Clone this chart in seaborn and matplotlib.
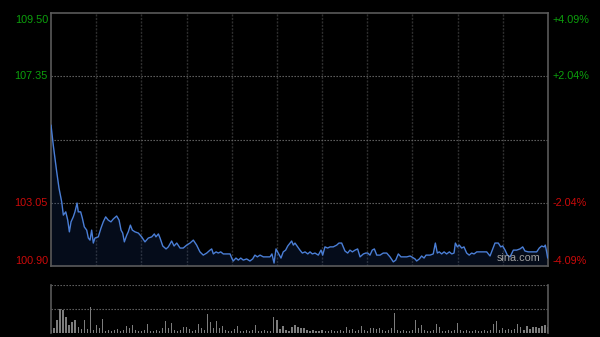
import numpy as np
import pandas as pd
import seaborn as sns
import matplotlib
matplotlib.use("Agg")
import matplotlib.pyplot as plt
from matplotlib.transforms import offset_copy

# ---------------- data ----------------
prev_close = 105.20
price_ticks = [109.50, 107.35, 103.05, 100.90]
pct_labels = ["+4.09%", "+2.04%", "-2.04%", "-4.09%"]

minutes = [0, 1.5, 3.8, 5.3, 7.1, 8.2, 9.8, 11.1, 12.2, 13.3, 14.8, 15.9, 17.3, 18.1, 19.7,
           20.8, 22.1, 23.7, 24.8, 25.9, 27.0, 28.1, 29.2, 31.4, 33.2, 34.7, 36.3, 38.0, 39.8,
           41.4, 43.6, 45.2, 46.5, 47.6, 48.7, 50.3, 51.3, 52.7, 54.0, 55.8, 58.0, 60.2, 62.4,
           64.6, 66.9, 68.6,
           69.7, 71.3, 72.4, 74.2, 76.4, 77.9, 80.1, 81.7, 83.5, 85.7, 87.8, 90.1, 92.3, 94.5,
           96.7, 98.9, 101.1, 103.4, 105.6, 106.7, 107.8, 109.6, 111.1, 112.7, 114.4, 116.7,
           118.9, 120.0, 121.0, 122.8, 124.4, 126.0, 127.7, 129.9, 132.1, 133.9, 135.4, 137.0,
           138.8, 141.0, 143.2, 145.4, 146.7, 148.1, 149.4, 150.9,
           152.7, 154.2, 155.8, 157.2, 158.7, 159.8, 160.9, 162.0, 163.8, 165.3, 166.9, 168.7,
           170.5, 172.0, 173.5, 175.3, 177.5, 179.3, 180.4, 181.9, 183.7, 185.3, 187.4, 189.7,
           191.2, 193.0, 195.2, 197.0, 198.5, 200.1, 201.9, 203.6, 205.2, 207.4, 209.0, 210.3,
           211.8, 213.3, 214.7, 216.3, 218.5, 220.6, 222.9, 225.1, 227.3, 228.9, 230.6, 232.4,
           234.6,
           236.2, 238.4, 239.5, 241.7, 242.8, 244.6, 246.1, 247.7, 249.0, 251.7, 253.8, 255.2,
           256.5, 257.8, 259.4, 261.0, 262.7, 264.5, 266.1, 267.6, 268.5, 269.8, 271.1, 272.7,
           274.2, 276.0, 277.7, 279.3, 280.9, 282.7, 286.0, 289.3, 291.5, 293.3, 294.8, 297.0,
           298.6, 299.9, 301.5, 303.0, 304.8, 307.0, 309.2, 311.4, 313.2, 314.7, 316.9, 320.2,
           322.5, 324.2, 325.8, 327.4, 328.2, 329.1, 329.8]

prices = [105.69, 105.01, 104.10, 103.55, 103.08, 102.63, 102.74, 102.46, 102.06, 102.40,
          102.57, 102.74, 103.04, 102.74, 102.74, 102.53, 102.23, 102.12, 101.85, 101.78,
          102.12, 101.68, 101.85, 101.89, 102.19, 102.40, 102.57, 102.46, 102.40, 102.50,
          102.60, 102.46, 102.12, 102.02, 101.72, 101.95, 102.06, 102.29, 102.12, 102.06,
          102.02, 101.89, 101.72, 101.85, 101.89, 101.99,
          101.89, 101.99, 101.85, 101.58, 101.48, 101.55, 101.75, 101.58, 101.68, 101.51,
          101.51, 101.61, 101.68, 101.78, 101.61, 101.38, 101.27, 101.34, 101.44, 101.48,
          101.31, 101.38, 101.34, 101.38, 101.31, 101.31, 101.31, 101.17, 101.07, 101.17,
          101.10, 101.17, 101.10, 101.14, 101.07, 101.14, 101.27, 101.21, 101.27, 101.21,
          101.21, 101.21, 101.31, 101.00, 101.48, 101.34,
          101.17, 101.38, 101.44, 101.58, 101.68, 101.75, 101.61, 101.68, 101.55, 101.44,
          101.34, 101.38, 101.31, 101.38, 101.31, 101.34, 101.27, 101.44, 101.27, 101.55,
          101.51, 101.55, 101.55, 101.61, 101.68, 101.68, 101.41, 101.34, 101.44, 101.38,
          101.44, 101.48, 101.21, 101.31, 101.34, 101.34, 101.27, 101.44, 101.48, 101.27,
          101.27, 101.34, 101.34, 101.21, 101.04, 101.10, 101.31, 101.21, 101.21,
          101.21, 101.24, 101.21, 101.14, 101.07, 101.14, 101.24, 101.17, 101.27, 101.27,
          101.31, 101.68, 101.34, 101.38, 101.31, 101.38, 101.31, 101.38, 101.31, 101.34,
          101.68, 101.55, 101.61, 101.51, 101.55, 101.34, 101.27, 101.34, 101.31, 101.38,
          101.38, 101.38, 101.24, 101.48, 101.68, 101.68, 101.55, 101.58, 101.44, 101.27,
          101.21, 101.44, 101.44, 101.48, 101.55, 101.41, 101.38, 101.38, 101.38, 101.51,
          101.58, 101.55, 101.61, 101.38, 101.17]

# volume, one bar per two minutes (relative units, axis max 48)
volume = [3, 5, 13, 24, 23, 16, 8, 11, 13, 6, 4, 13, 4, 26, 3, 8, 5, 14, 2, 3,
          2, 3, 4, 2, 3, 7, 5, 8, 3, 2, 2, 3, 9, 2, 2, 3, 2, 5, 12, 5,
          10, 3, 2, 3, 6, 6, 4, 2, 3, 9, 5, 3, 19, 11, 5, 12, 5, 7, 3, 2,
          2, 4, 7, 2, 2, 3, 2, 3, 8, 2, 2, 3, 2, 2, 16, 13, 4, 7, 3, 2,
          6, 8, 6, 5, 5, 3, 2, 3, 2, 2, 3, 2, 2, 3, 2, 2, 3, 2, 6, 3,
          4, 2, 3, 7, 3, 2, 5, 5, 4, 5, 3, 2, 3, 5, 20, 3, 2, 3, 2, 2,
          3, 13, 5, 8, 3, 2, 2, 3, 9, 6, 2, 2, 3, 2, 3, 10, 3, 2, 3, 2,
          2, 3, 2, 2, 3, 2, 3, 9, 12, 3, 5, 3, 4, 3, 4, 9, 6, 3, 7, 4,
          6, 6, 5, 7, 8, 6]
vol_minutes = [2 * k for k in range(len(volume))]

# ---------------- style ----------------
sns.set_theme(style="dark")
plt.rcParams["font.family"] = ["Liberation Sans", "DejaVu Sans"]
BG = "#000000"
GREEN = "#0ca00c"
RED = "#cc0a0a"
FRAME = "#5a5a5a"
LINE = "#4a7ed6"

fig = plt.figure(figsize=(6.0, 3.37), dpi=100, facecolor=BG)
ax = fig.add_axes([51 / 600, 1 - 266 / 337, 497 / 600, 253 / 337])
axv = fig.add_axes([51 / 600, 1 - 333 / 337, 497 / 600, 48 / 337])

for a in (ax, axv):
    a.set_facecolor(BG)
    a.grid(False)

df = pd.DataFrame({"minute": minutes, "price": prices})
ymin, ymax = price_ticks[-1], price_ticks[0]

# gridlines
for m in range(30, 330, 30):
    ax.axvline(m, color="#2f2f2f", lw=1.0, ls=(0, (1.5, 1.0)), zorder=1)
for p in [price_ticks[1], prev_close, price_ticks[2]]:
    ax.axhline(p, color="#6e6e6e", lw=0.8, ls=(0, (1.2, 1.5)), zorder=1)

ax.fill_between(df["minute"], df["price"], ymin, color="#1b3a78", alpha=0.22, lw=0, zorder=2)
sns.lineplot(data=df, x="minute", y="price", ax=ax, color=LINE, lw=1.0, zorder=3)

ax.set_xlim(0, 330)
ax.set_ylim(ymin, ymax)
ax.set_xticks([])
ax.set_yticks([])
ax.set_xlabel("")
ax.set_ylabel("")
for s in ax.spines.values():
    s.set_visible(True)
    s.set_color(FRAME)
    s.set_linewidth(1.2)

# price labels (left) and percent labels (right)
trans = ax.get_yaxis_transform()
n = len(price_ticks)
for i, (p, lab) in enumerate(zip(price_ticks, pct_labels)):
    col = GREEN if p > prev_close else RED
    if i == 0:
        va, dy = "top", -1.5
    elif i == n - 1:
        va, dy = "bottom", 0
    else:
        va, dy = "center", 0
    tr = offset_copy(trans, fig=fig, x=0, y=dy, units="points")
    ax.text(-0.006, p, f"{p:.2f}", transform=tr, ha="right", va=va, color=col, fontsize=7.8)
    ax.text(1.01, p, lab, transform=tr, ha="left", va=va, color=col, fontsize=7.8)

ax.text(0.94, 0.012, "sina.com", transform=ax.transAxes, ha="center", va="bottom",
        color="#a0a0a0", fontsize=7.8, zorder=5)

# volume panel
axv.axhline(48, color="#6e6e6e", lw=0.8, ls=(0, (1.2, 1.5)))
axv.axhline(24, color="#6e6e6e", lw=0.8, ls=(0, (1.2, 1.5)))
axv.bar(vol_minutes, volume, width=0.8, color="#7c7c7c", align="center", lw=0)
axv.set_xlim(0, 330)
axv.set_ylim(0, 48)
axv.set_xticks([])
axv.set_yticks([])
for side, s in axv.spines.items():
    if side in ("left", "right"):
        s.set_visible(True)
        s.set_color(FRAME)
        s.set_linewidth(1.2)
    else:
        s.set_visible(False)

fig.savefig("out.png", dpi=100, facecolor=BG)
